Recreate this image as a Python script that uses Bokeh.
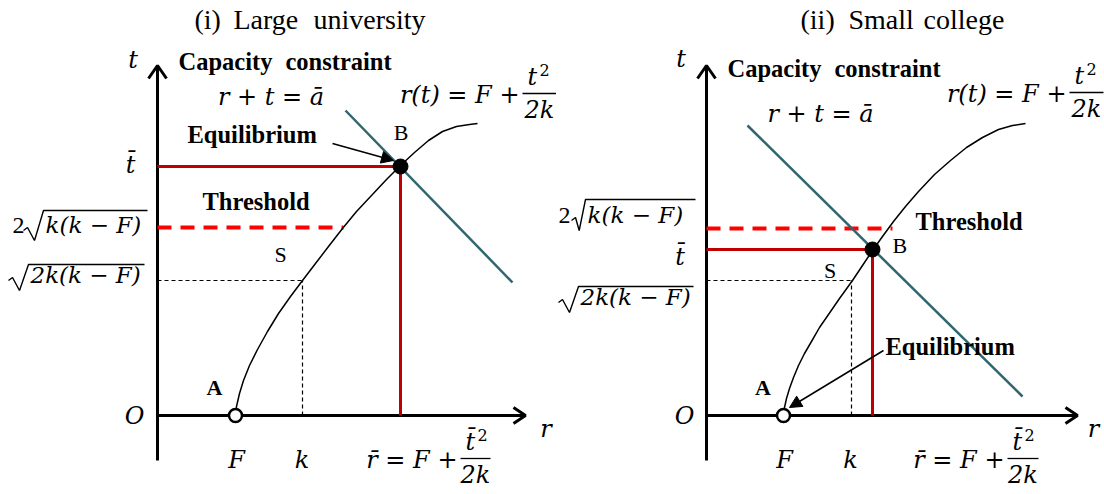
from bokeh.plotting import figure
from bokeh.layouts import row
from bokeh.models import Range1d, Arrow, NormalHead
from bokeh.core.properties import value
from bokeh.embed import file_html
from bokeh.resources import INLINE

W1, W2, H = 556, 548, 494
Y_LO, Y_HI = -79, 415

# ---- Panel (i) Large university : values measured from the origin O (units ~ px) ----
L_F = 78
L_k = 145
L_S_t = 135
L_thr = 188
L_thr_end = 186
L_rbar = 243
L_tbar = 249
L_curve_r = [78, 79, 82, 86, 92, 100, 110, 121, 133, 145, 158, 171, 185, 199, 214, 229,
             243, 257, 271, 285, 299, 312, 320]
L_curve_t = [0, 9, 22, 35, 50, 66, 84, 102, 119, 135, 152, 169, 187, 204, 220, 236,
             250, 263, 275, 284, 289, 291, 292]
L_line_r = [188, 355]
L_line_t = [305, 133]
L_axis_t = [-45, 350]
L_axis_r = [0, 368]

# ---- Panel (ii) Small college ----
R_F = 77
R_k = 145
R_S_t = 135
R_thr = 187
R_thr_end = 186
R_rbar = 166
R_tbar = 166
R_curve_r = [77, 78, 80, 83, 87, 92, 98, 105, 113, 122, 133, 146, 156, 166, 176, 187,
             199, 212, 228, 244, 260, 276, 292, 306, 319]
R_curve_t = [0, 8, 17, 27, 38, 50, 62, 74, 88, 101, 117, 135, 150, 165, 179, 194,
             209, 224, 241, 255, 268, 278, 286, 290, 292]
R_line_r = [41, 316]
R_line_t = [290, 19]
R_axis_t = [-45, 350]
R_axis_r = [0, 371]

SERIF = "Liberation Serif"
MATH = "DejaVu Serif"
MS = 24  # math font size
DARKRED = "#C00000"
RED = "#FF0000"
TEAL = "#2F6670"


def txt(p, x, y, s, size, font=SERIF, style="normal", align="left", color="black"):
    # y is the wanted alphabetic baseline; compensate the renderer's baseline offset
    p.text(x=[x], y=[y + 0.35 * size], text=[s], text_font=value(font),
           text_font_size=f"{size}px", text_font_style=style, text_align=align,
           text_baseline="alphabetic", text_color=color)


def sqrt_label(p, prefix, body, xo, yb, yo, xend, pre_gap=19, rw=20):
    # radical sign + vinculum, then the radicand
    p.line([xo - rw, xo - rw + 4, xo - 0.45 * rw, xo, xend],
           [yb + 3, yb + 6, yb - 7, yo, yo], line_color="black", line_width=1.4)
    if prefix:
        txt(p, xo - pre_gap, yb, prefix, MS, SERIF, "normal", "right")
    txt(p, xo + 2, yb, body, 23, MATH, "italic")


def fraction_formula(p, lhs, num, bar0, bar1, yb):
    txt(p, bar0 - 3, yb, lhs, MS, MATH, "italic", "right")
    p.line([bar0, bar1], [yb + 10, yb + 10], line_color="black", line_width=1.3)
    txt(p, bar0 + 5, yb + 18, num, MS, MATH, "italic")
    txt(p, bar0 + 17, yb + 28, "2", 16, MATH, "normal")
    txt(p, (bar0 + bar1) / 2, yb - 15, "2k", MS, MATH, "italic", "center")


def panel(x0, w, F, k, S_t, thr, thr_end, rbar, tbar, cr, ct, lr, lt, at, ar):
    p = figure(width=w, height=H, x_range=Range1d(x0, x0 + w), y_range=Range1d(Y_LO, Y_HI),
               output_backend="svg", toolbar_location=None, x_axis_type=None,
               y_axis_type=None, min_border=0, outline_line_color=None,
               background_fill_color="white", border_fill_color="white")
    p.grid.visible = False
    # axes
    p.line([0, 0], at, line_color="black", line_width=3)
    p.line(ar, [0, 0], line_color="black", line_width=3)
    p.line([-9, 0, 9], [at[1] - 13, at[1], at[1] - 13], line_color="black", line_width=3)
    p.line([ar[1] - 12, ar[1], ar[1] - 12], [8, 0, -8], line_color="black", line_width=3)
    # S guides
    p.line([0, k], [S_t, S_t], line_color="black", line_width=1.2, line_dash="4 3")
    p.line([k, k], [0, S_t], line_color="black", line_width=1.2, line_dash="4 3")
    # threshold
    p.line([0, thr_end], [thr, thr], line_color=RED, line_width=4, line_dash="14 9")
    # equilibrium lines
    p.line([0, rbar], [tbar, tbar], line_color=DARKRED, line_width=3)
    p.line([rbar, rbar], [0, tbar], line_color=DARKRED, line_width=3)
    # capacity constraint and r(t)
    p.line(lr, lt, line_color=TEAL, line_width=2.5)
    p.line(cr, ct, line_color="black", line_width=1.5, line_join="round")
    p.scatter([rbar], [tbar], size=15, color="black")
    p.scatter([F], [0], size=13, fill_color="white", line_color="black", line_width=2.5)
    return p


# ---------------- left panel ----------------
p1 = panel(-157, W1, L_F, L_k, L_S_t, L_thr, L_thr_end, L_rbar, L_tbar,
           L_curve_r, L_curve_t, L_line_r, L_line_t, L_axis_t, L_axis_r)
txt(p1, 37, 386, "(i)", 28)
txt(p1, 76, 386, "Large", 28)
txt(p1, 156, 386, "university", 28)
txt(p1, -24.5, 347, "t", MS, MATH, "italic", "center")
txt(p1, 21, 345, "Capacity", 24.5, SERIF, "bold")
txt(p1, 128, 345, "constraint", 24.5, SERIF, "bold")
txt(p1, 113.5, 310, "r + t = \u0101", MS, MATH, "italic", "center")
fraction_formula(p1, "r(t) = F +", "t", 365, 399, 312)
txt(p1, 243.5, 275, "B", 22, SERIF, "normal", "center")
txt(p1, 30, 272, "Equilibrium", 24.5, SERIF, "bold")
p1.add_layout(Arrow(end=NormalHead(size=12, fill_color="black", line_color="black"),
                    x_start=175, y_start=272, x_end=236, y_end=255,
                    line_color="black", line_width=1.5))
txt(p1, -27, 242, "t\u0304", MS, MATH, "italic", "center")
txt(p1, 45, 205, "Threshold", 24.5, SERIF, "bold")
sqrt_label(p1, "2", "k(k \u2212 F)", -114, 182, 205, -10, 19, 20)
txt(p1, 123, 153, "S", 22, SERIF, "normal", "center")
sqrt_label(p1, "", "2k(k \u2212 F)", -129, 132, 151, -13)
txt(p1, 57, 20, "A", 22, SERIF, "bold", "center")
txt(p1, -23, -9, "O", MS, MATH, "italic", "center")
txt(p1, 388.5, -22, "r", MS, MATH, "italic", "center")
txt(p1, 79, -53, "F", MS, MATH, "italic", "center")
txt(p1, 144.5, -53, "k", MS, MATH, "italic", "center")
fraction_formula(p1, "r\u0304 = F +", "t\u0304", 303, 333, -53)

# ---------------- right panel ----------------
p2 = panel(-150, W2, R_F, R_k, R_S_t, R_thr, R_thr_end, R_rbar, R_tbar,
           R_curve_r, R_curve_t, R_line_r, R_line_t, R_axis_t, R_axis_r)
txt(p2, 94, 386, "(ii)", 28)
txt(p2, 142, 386, "Small", 28)
txt(p2, 217, 386, "college", 28)
txt(p2, -25.5, 348, "t", MS, MATH, "italic", "center")
txt(p2, 21, 338, "Capacity", 24.5, SERIF, "bold")
txt(p2, 128, 338, "constraint", 24.5, SERIF, "bold")
txt(p2, 114, 293, "r + t = \u0101", MS, MATH, "italic", "center")
fraction_formula(p2, "r(t) = F +", "t", 363, 397, 313)
txt(p2, 186, 162, "B", 22, SERIF, "normal", "left")
txt(p2, 179, 60, "Equilibrium", 24.5, SERIF, "bold")
p2.add_layout(Arrow(end=NormalHead(size=12, fill_color="black", line_color="black"),
                    x_start=177, y_start=65, x_end=83, y_end=8,
                    line_color="black", line_width=1.5))
txt(p2, -26.5, 150, "t\u0304", MS, MATH, "italic", "center")
txt(p2, 209, 185, "Threshold", 24.5, SERIF, "bold")
sqrt_label(p2, "2", "k(k \u2212 F)", -121, 192, 216, -11, 15, 14)
txt(p2, 123.5, 137, "S", 22, SERIF, "normal", "center")
sqrt_label(p2, "", "2k(k \u2212 F)", -128, 110, 129, -13)
txt(p2, 56.5, 20, "A", 22, SERIF, "bold", "center")
txt(p2, -22, -9, "O", MS, MATH, "italic", "center")
txt(p2, 387, -22, "r", MS, MATH, "italic", "center")
txt(p2, 78, -53, "F", MS, MATH, "italic", "center")
txt(p2, 144, -53, "k", MS, MATH, "italic", "center")
fraction_formula(p2, "r\u0304 = F +", "t\u0304", 301, 332, -53)

layout = row(p1, p2)
open("out.html", "w").write(file_html(layout, INLINE))
